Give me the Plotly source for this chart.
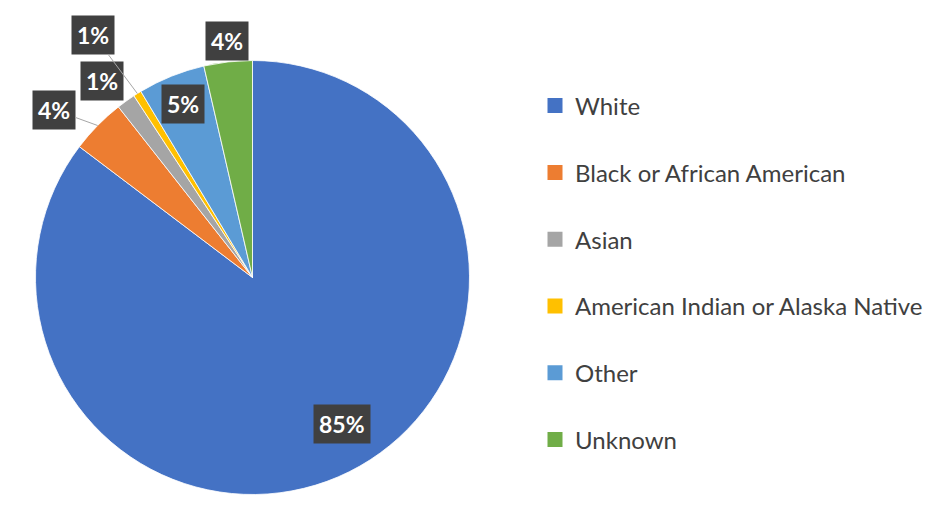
import math

import plotly.graph_objects as go

# data
categories = [
    "White",
    "Black or African American",
    "Asian",
    "American Indian or Alaska Native",
    "Other",
    "Unknown",
]
shares = [85.3, 4.1, 1.4, 0.6, 5.0, 3.6]
colors = ["#4472C4", "#ED7D31", "#A5A5A5", "#FFC000", "#5B9BD5", "#70AD47"]

W, H = 939, 522
OFF = 8  # page body margin of the browser
CX, CY, R = 252.5, 277.5, 217  # pie centre / radius in screen pixels

# label placement per slice:
# ("in", radius fraction, angle nudge in degrees) or ("out", dx, dy, leader)
labelStyle = [
    ("in", 0.79, -5),
    ("out", -44, -16, True),
    ("out", -24, -20, False),
    ("out", -44, -59, True),
    ("in", 0.86, 0),
    ("out", -1, -21, False),
]


def toPaper(px, py):
    return (px - OFF) / W, 1 - (py - OFF) / H


fig = go.Figure()

x0, y1 = toPaper(CX - R, CY - R)
x1, y0 = toPaper(CX + R, CY + R)
fig.add_trace(
    go.Pie(
        labels=categories,
        values=shares,
        marker=dict(colors=colors, line=dict(color="white", width=0.8)),
        sort=False,
        direction="clockwise",
        rotation=0,
        textinfo="none",
        hoverinfo="label+percent",
        showlegend=False,
        domain=dict(x=[x0, x1], y=[y0, y1]),
    )
)

# legend entries (one per slice so the gap between them can be set)
for i, (name, col) in enumerate(zip(categories, colors)):
    fig.add_trace(
        go.Scatter(
            x=[None],
            y=[None],
            mode="markers",
            name=name,
            legendgroup=str(i),
            marker=dict(symbol="square", size=15, color=col),
            hoverinfo="skip",
        )
    )

# data labels: dark boxes with white percentages
total = sum(shares)
cum = 0
annotations = []
for v, style in zip(shares, labelStyle):
    mid = (cum + v / 2) / total * 2 * math.pi
    cum += v
    txt = f"{round(v / total * 100)}%"
    box = dict(
        text=txt,
        font=dict(family="Lato", size=23, color="white", weight="bold"),
        bgcolor="#404040",
        borderpad=5,
        xref="paper",
        yref="paper",
        xanchor="center",
        yanchor="middle",
    )
    if style[0] == "in":
        a = mid + math.radians(style[2])
        x, y = toPaper(CX + style[1] * R * math.sin(a), CY - style[1] * R * math.cos(a))
        box.update(x=x, y=y, showarrow=False)
    else:
        _, dx, dy, leader = style
        x, y = toPaper(CX + R * math.sin(mid), CY - R * math.cos(mid))
        if leader:
            box.update(
                x=x, y=y, ax=dx, ay=dy, showarrow=True, arrowhead=0,
                arrowwidth=1, arrowcolor="#a6a6a6", standoff=0,
            )
        else:
            box.update(x=x, y=y, xshift=dx, yshift=-dy, showarrow=False)
    annotations.append(box)

lx, ly = toPaper(535, 273)
fig.update_layout(
    width=W,
    height=H,
    margin=dict(l=0, r=0, t=0, b=0),
    paper_bgcolor="white",
    plot_bgcolor="white",
    xaxis=dict(visible=False),
    yaxis=dict(visible=False),
    annotations=annotations,
    legend=dict(
        x=lx,
        y=ly,
        xanchor="left",
        yanchor="middle",
        font=dict(family="Lato", size=24, color="#404040"),
        tracegroupgap=32.6,
        bgcolor="rgba(0,0,0,0)",
    ),
)

fig.write_html("out.html")
